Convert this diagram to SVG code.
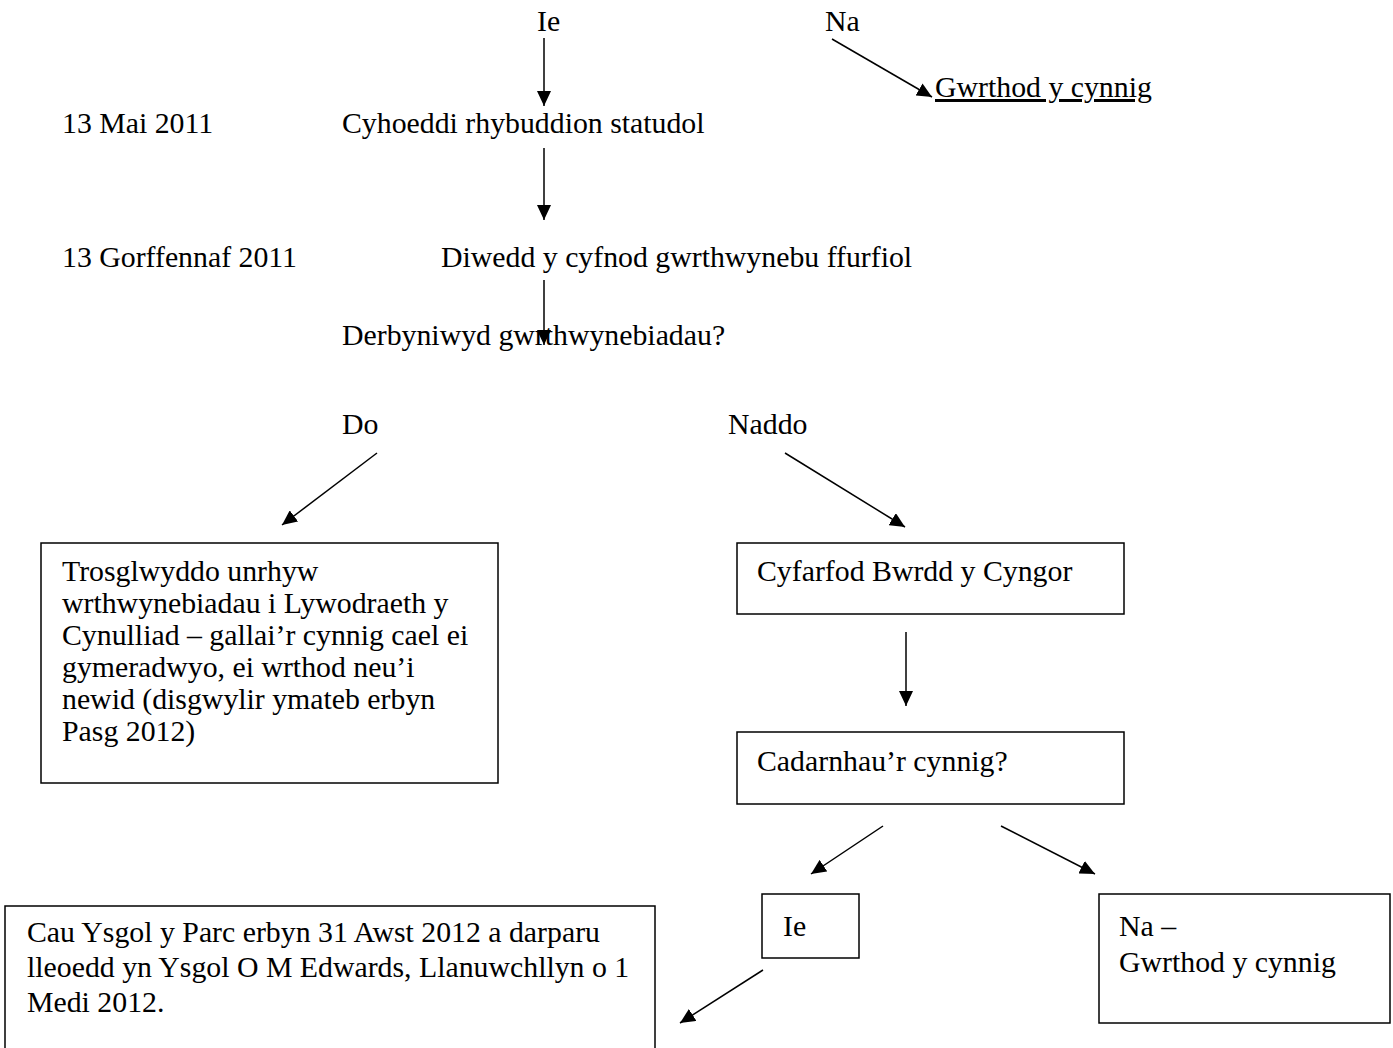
<svg xmlns="http://www.w3.org/2000/svg" width="1393" height="1048" viewBox="0 0 1393 1048">
<style>
text{font-family:"Liberation Serif","Times New Roman",serif;font-size:29.8px;fill:#000}
.box{fill:#fff;stroke:#000;stroke-width:1.5}
.c{stroke:#000;stroke-width:1.5;fill:none;marker-end:url(#ah)}
</style>
<defs>
<marker id="ah" markerUnits="userSpaceOnUse" markerWidth="16" markerHeight="14" refX="15" refY="7" orient="auto">
<path d="M0,0 L15,7 L0,14 z" fill="#000"/>
</marker>
</defs>
<rect width="1393" height="1048" fill="#fff"/>
<g id="labels">
<text id="t-ie" x="537" y="31">Ie</text>
<text id="t-na" x="825" y="31">Na</text>
<text id="t-gwrthod" x="935" y="97" text-decoration="underline">Gwrthod y cynnig</text>
<text id="t-date1" x="62" y="133">13 Mai 2011</text>
<text id="t-cyhoeddi" x="342" y="133">Cyhoeddi rhybuddion statudol</text>
<text id="t-date2" x="62" y="267">13 Gorffennaf 2011</text>
<text id="t-diwedd" x="441" y="267">Diwedd y cyfnod gwrthwynebu ffurfiol</text>
<text id="t-derbyniwyd" x="342" y="345">Derbyniwyd gwrthwynebiadau?</text>
<text id="t-do" x="342" y="434">Do</text>
<text id="t-naddo" x="728" y="434">Naddo</text>
</g>
<g id="n-trosglwyddo">
<rect class="box" x="41" y="543" width="457" height="240"/>
<text x="62" y="581">Trosglwyddo unrhyw</text>
<text x="62" y="613">wrthwynebiadau i Lywodraeth y</text>
<text x="62" y="645">Cynulliad – gallai’r cynnig cael ei</text>
<text x="62" y="677">gymeradwyo, ei wrthod neu’i</text>
<text x="62" y="709">newid (disgwylir ymateb erbyn</text>
<text x="62" y="741">Pasg 2012)</text>
</g>
<g id="n-cyfarfod">
<rect class="box" x="737" y="543" width="387" height="71"/>
<text x="757" y="581">Cyfarfod Bwrdd y Cyngor</text>
</g>
<g id="n-cadarnhau">
<rect class="box" x="737" y="732" width="387" height="72"/>
<text x="757" y="771">Cadarnhau’r cynnig?</text>
</g>
<g id="n-ie">
<rect class="box" x="762" y="894" width="97" height="64"/>
<text x="783" y="936">Ie</text>
</g>
<g id="n-na">
<rect class="box" x="1099" y="894" width="291" height="129"/>
<text x="1119" y="936">Na –</text>
<text x="1119" y="972">Gwrthod y cynnig</text>
</g>
<g id="n-cau">
<rect class="box" x="5" y="906" width="650" height="160"/>
<text x="27" y="942">Cau Ysgol y Parc erbyn 31 Awst 2012 a darparu</text>
<text x="27" y="977">lleoedd yn Ysgol O M Edwards, Llanuwchllyn o 1</text>
<text x="27" y="1012">Medi 2012.</text>
</g>
<g id="connectors">
<line class="c" x1="544" y1="38" x2="544" y2="106"/>
<line class="c" x1="832" y1="39" x2="932" y2="97"/>
<line class="c" x1="544" y1="148" x2="544" y2="220"/>
<line class="c" x1="544" y1="280" x2="544" y2="345"/>
<line class="c" x1="377" y1="453" x2="282" y2="525"/>
<line class="c" x1="785" y1="453" x2="905" y2="527"/>
<line class="c" x1="906" y1="632" x2="906" y2="706"/>
<line class="c" x1="883" y1="826" x2="811" y2="874"/>
<line class="c" x1="1001" y1="826" x2="1095" y2="874"/>
<line class="c" x1="763" y1="970" x2="680" y2="1023"/>
</g>
</svg>
